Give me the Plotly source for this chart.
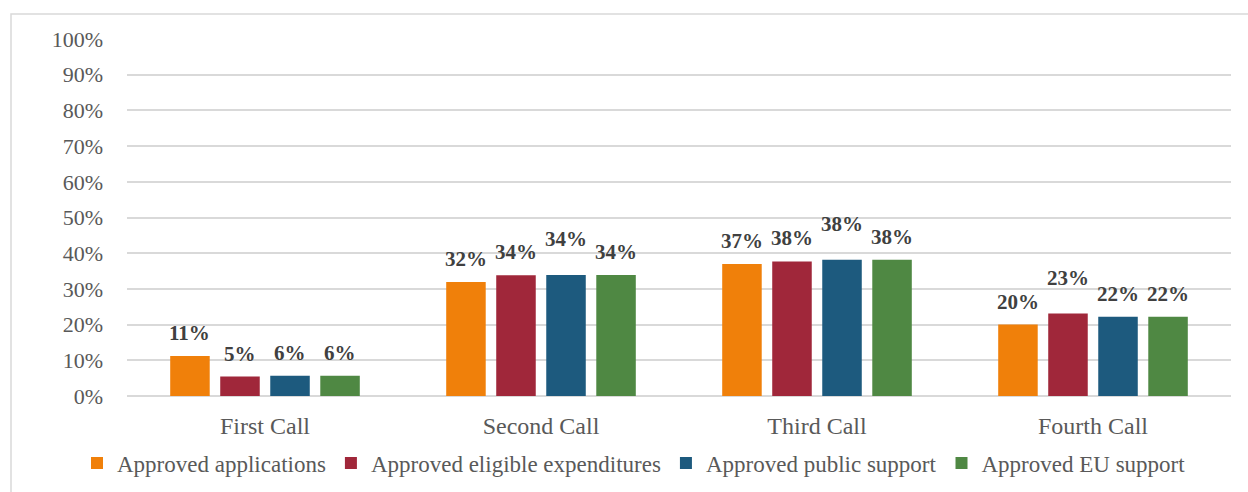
import plotly.graph_objects as go

# Data
calls = ["First Call", "Second Call", "Third Call", "Fourth Call"]
series_names = [
    "Approved applications",
    "Approved eligible expenditures",
    "Approved public support",
    "Approved EU support",
]
approved_applications = [11.2, 31.9, 37.0, 20.0]
approved_eligible_expenditures = [5.45, 33.8, 37.7, 23.1]
approved_public_support = [5.7, 33.9, 38.2, 22.2]
approved_eu_support = [5.7, 33.9, 38.2, 22.2]
y_ticks = [0, 10, 20, 30, 40, 50, 60, 70, 80, 90, 100]
y_tick_labels = [f"{t}%" for t in y_ticks]

series_values = [
    approved_applications,
    approved_eligible_expenditures,
    approved_public_support,
    approved_eu_support,
]
colors = ["#F0800A", "#A0273A", "#1D5A7E", "#4F8843"]

# Labels that sit higher to keep them clear of their neighbours
lifted_labels = {(1, 2), (2, 2), (3, 1)}  # (call index, series index)

W, H = 1248, 492
ML, MR, MT, MB = 127, 17, 39, 96
BARGAP = 0.275
FONT = "Liberation Serif"
TEXT = "#595959"
GRID = "#d9d9d9"

pw, ph = W - ML - MR, H - MT - MB

fig = go.Figure()
for name, vals, col in zip(series_names, series_values, colors):
    fig.add_trace(go.Bar(
        x=calls, y=vals, name=name,
        marker=dict(color=col, line=dict(width=0)),
        hoverinfo="skip",
    ))

# Value labels above each bar
n_series = len(series_values)
slot = (1 - BARGAP) / n_series
for j, vals in enumerate(series_values):
    for i, v in enumerate(vals):
        lift = 36 if (i, j) in lifted_labels else 23
        fig.add_annotation(
            x=i + (j - (n_series - 1) / 2) * slot, y=v,
            xref="x", yref="y",
            text=f"<b>{round(v)}%</b>",
            showarrow=False, yshift=lift, yanchor="middle",
            font=dict(family=FONT, size=21, color="#404040"),
        )

# Outer chart border
fig.add_shape(
    type="rect", xref="paper", yref="paper",
    x0=(11 - ML) / pw, x1=(W + 5 - ML) / pw,
    y0=-(MB + 5) / ph, y1=1 + (MT - 14) / ph,
    line=dict(color=GRID, width=1.5), fillcolor="rgba(0,0,0,0)",
    layer="below",
)

fig.update_layout(
    width=W, height=H,
    margin=dict(l=ML, r=MR, t=MT, b=MB, autoexpand=False),
    paper_bgcolor="white", plot_bgcolor="white",
    barmode="group", bargap=BARGAP, bargroupgap=0.21,
    font=dict(family=FONT, color=TEXT, size=22),
    showlegend=True,
    legend=dict(
        orientation="h",
        x=(77 - ML) / pw, xanchor="left",
        y=-(463 - (H - MB)) / ph, yanchor="middle",
        bgcolor="rgba(0,0,0,0)",
        font=dict(family=FONT, size=23, color=TEXT),
        itemclick=False, itemdoubleclick=False,
    ),
    xaxis=dict(
        showgrid=False, showline=False, zeroline=False,
        tickfont=dict(family=FONT, size=24, color=TEXT),
        ticklabelstandoff=13,
    ),
    yaxis=dict(
        range=[0, 100], tickvals=y_ticks, ticktext=y_tick_labels,
        showgrid=True, gridcolor=GRID, gridwidth=1.5,
        zeroline=True, zerolinecolor=GRID, zerolinewidth=1.5,
        showline=False,
        tickfont=dict(family=FONT, size=22, color=TEXT),
        ticklabelstandoff=23,
    ),
)

fig.write_html("out.html")
